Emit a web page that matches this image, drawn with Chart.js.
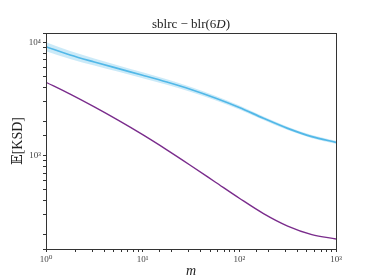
<!DOCTYPE html>
<html>
<head>
<meta charset="utf-8">
<script src="https://cdn.jsdelivr.net/npm/chart.js@4"></script>
<style>
html,body{margin:0;padding:0;background:#fff;}
#wrap{width:374px;height:280px;position:relative;}
</style>
</head>
<body>
<div id="wrap"><canvas id="c" width="374" height="280"></canvas></div>
<script>
const mValues = [1, 1.778, 3.162, 5.623, 10, 17.78, 31.62, 56.23, 100, 177.8, 316.2, 562.3, 1000];
const sblrcMean = [9160, 7745, 6714, 5861, 5129, 4467, 3837, 3228, 2661, 2138, 1742, 1472, 1312];
const sblrcUpper = [10039, 8403, 7224, 6254, 5452, 4722, 4037, 3376, 2770, 2217, 1803, 1521, 1353];
const sblrcLower = [8358, 7138, 6240, 5493, 4825, 4226, 3647, 3086, 2556, 2062, 1683, 1425, 1273];
const blrMean = [4446, 3491, 2692, 2046, 1531, 1125, 815, 586, 421, 308, 239, 201, 184];
const xTickLabels = {1: '10⁰', 10: '10¹', 100: '10²', 1000: '10³'};
const yTickLabels = {100: '10²', 1000: '10³', 10000: '10⁴'};

const toPts = (arr) => mValues.map((m, i) => ({x: m, y: arr[i]}));
const BLUE = 'rgb(82,184,232)';
const PURPLE = 'rgb(122,44,140)';
const AXIS = '#333';
const SERIF = "'Liberation Serif', 'DejaVu Serif', serif";

const frame = {
  id: 'frame',
  afterDatasetsDraw(chart) {
    const {ctx, chartArea: a} = chart;
    ctx.save();
    ctx.strokeStyle = AXIS;
    ctx.lineWidth = 1;
    ctx.strokeRect(a.left + 0.5, a.top + 0.5, a.right - a.left, a.bottom - a.top);
    ctx.restore();
  },
  afterDraw(chart) {
    const {ctx, chartArea: a} = chart;
    ctx.save();
    ctx.fillStyle = '#222';
    ctx.textBaseline = 'alphabetic';
    const parts = [
      {t: 'sblrc − blr(6', f: '13px ' + SERIF},
      {t: 'D', f: 'italic 13px ' + SERIF},
      {t: ')', f: '13px ' + SERIF}
    ];
    let w = 0;
    parts.forEach(p => { ctx.font = p.f; p.w = ctx.measureText(p.t).width; w += p.w; });
    let x = (a.left + a.right) / 2 - w / 2;
    parts.forEach(p => { ctx.font = p.f; ctx.fillText(p.t, x, 28); x += p.w; });
    ctx.restore();
  }
};

const common = {pointRadius: 0, cubicInterpolationMode: 'monotone'};

new Chart(document.getElementById('c'), {
  type: 'line',
  data: {
    datasets: [
      Object.assign({label: 'upper', data: toPts(sblrcUpper), borderWidth: 0, fill: false, backgroundColor: 'rgba(82,184,232,0.3)'}, common),
      Object.assign({label: 'lower', data: toPts(sblrcLower), borderWidth: 0, fill: '-1', backgroundColor: 'rgba(82,184,232,0.3)'}, common),
      Object.assign({label: 'sblrc', data: toPts(sblrcMean), borderColor: BLUE, borderWidth: 1.7, fill: false}, common),
      Object.assign({label: 'blr', data: toPts(blrMean), borderColor: PURPLE, borderWidth: 1.4, fill: false}, common)
    ]
  },
  options: {
    responsive: false,
    animation: false,
    events: [],
    layout: {padding: {left: 0, right: 38, top: 33, bottom: 0}},
    plugins: {legend: {display: false}, tooltip: {enabled: false}, title: {display: false}},
    scales: {
      x: {
        type: 'logarithmic', min: 1, max: 1000,
        border: {display: false},
        grid: {drawOnChartArea: false, drawTicks: true, tickLength: 3, color: AXIS, tickColor: AXIS},
        ticks: {
          autoSkip: false, maxRotation: 0, padding: 2,
          color: '#444', font: {family: SERIF, size: 9},
          callback: (v) => xTickLabels[v] || ''
        },
        title: {display: true, text: 'm', color: '#222', font: {family: SERIF, size: 14, style: 'italic'}, padding: {top: 0, bottom: 0}},
        afterFit: (s) => { s.height = 31; }
      },
      y: {
        type: 'logarithmic', min: 150, max: 12100,
        border: {display: false},
        grid: {drawOnChartArea: false, drawTicks: true, tickLength: 3, color: AXIS, tickColor: AXIS},
        ticks: {
          autoSkip: false, padding: 2,
          color: '#444', font: {family: SERIF, size: 9},
          callback: (v) => yTickLabels[v] || ''
        },
        title: {display: true, text: '𝔼[KSD]', color: '#222', font: {family: SERIF, size: 14}, padding: {top: 10, bottom: 0}},
        afterFit: (s) => { s.width = 46; }
      }
    }
  },
  plugins: [frame]
});
</script>
</body>
</html>
